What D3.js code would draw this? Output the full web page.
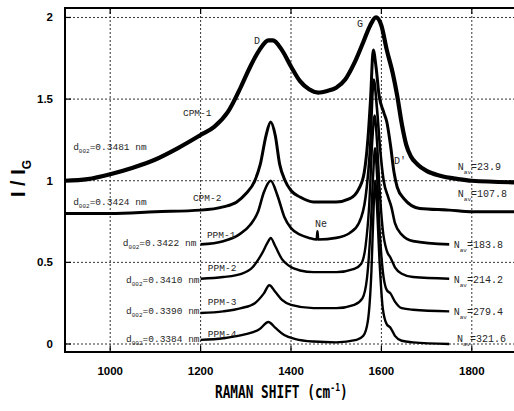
<!DOCTYPE html>
<html lang="en">
<head>
<meta charset="UTF-8">
<title>Raman spectra</title>
<script src="https://cdn.jsdelivr.net/npm/d3@7"></script>
<style>
html,body{margin:0;padding:0;background:#fff;}
svg{display:block;}
.tick-label{font-family:"Liberation Sans",Arial,sans-serif;font-weight:bold;font-size:11.5px;fill:#000;}
.note{font-family:"Liberation Mono","DejaVu Sans Mono",monospace;fill:#262626;}
.grid{stroke:#333;stroke-width:1;stroke-dasharray:2,2;}
</style>
</head>
<body>
<script>
// tick values
const xTicks = [1000, 1200, 1400, 1600, 1800];
const yTicks = [0, 0.5, 1, 1.5, 2];
const yTickLabels = ["0", "0.5", "1", "1.5", "2"];

// spectra: [raman shift, I/IG]
const cpm1 = [[900,1.00],[950,1.01],[1000,1.04],[1050,1.08],[1100,1.13],[1150,1.20],[1200,1.28],[1230,1.33],
  [1260,1.42],[1290,1.58],[1310,1.70],[1330,1.80],[1350,1.86],[1360,1.86],[1380,1.80],[1400,1.70],[1420,1.61],
  [1440,1.56],[1460,1.54],[1480,1.55],[1500,1.57],[1520,1.62],[1540,1.72],[1560,1.85],[1575,1.95],[1588,2.0],
  [1600,1.95],[1612,1.80],[1625,1.66],[1635,1.52],[1645,1.35],[1655,1.22],[1665,1.15],[1680,1.10],[1700,1.06],
  [1730,1.03],[1770,1.01],[1800,1.00],[1900,0.99]];
const cpm2 = [[900,0.80],[1000,0.80],[1100,0.81],[1200,0.82],[1250,0.84],[1280,0.87],[1300,0.92],[1320,1.00],
  [1332,1.10],[1345,1.28],[1355,1.36],[1365,1.28],[1375,1.10],[1387,1.00],[1400,0.94],[1420,0.90],[1450,0.87],
  [1500,0.87],[1530,0.89],[1550,0.95],[1562,1.05],[1570,1.25],[1576,1.50],[1582,1.80],[1588,1.70],[1595,1.52],
  [1605,1.42],[1612,1.36],[1620,1.22],[1628,1.05],[1635,0.96],[1650,0.89],[1685,0.83],[1750,0.82],[1800,0.81],[1900,0.81]];
const ppm1 = [[1200,0.61],[1250,0.63],[1285,0.67],[1310,0.73],[1327,0.81],[1340,0.93],[1355,1.00],[1370,0.91],
  [1385,0.78],[1400,0.71],[1420,0.67],[1440,0.65],[1457,0.64],[1458.5,0.69],[1460,0.64],[1500,0.65],[1530,0.68],
  [1550,0.74],[1565,0.90],[1575,1.20],[1583,1.62],[1590,1.45],[1597,1.20],[1605,1.00],[1615,0.90],[1622,0.84],
  [1630,0.74],[1645,0.67],[1670,0.63],[1750,0.61]];
const ppm2 = [[1200,0.40],[1250,0.41],[1290,0.43],[1315,0.47],[1335,0.55],[1350,0.63],[1355,0.65],[1365,0.60],
  [1380,0.52],[1395,0.48],[1420,0.45],[1450,0.44],[1500,0.44],[1540,0.46],[1555,0.49],[1565,0.60],[1573,0.85],
  [1580,1.25],[1585,1.40],[1590,1.25],[1596,0.95],[1603,0.70],[1612,0.57],[1620,0.53],[1630,0.47],[1645,0.43],
  [1670,0.41],[1750,0.40]];
const ppm3 = [[1200,0.19],[1250,0.20],[1290,0.22],[1320,0.25],[1340,0.31],[1352,0.36],[1365,0.32],[1380,0.27],
  [1400,0.24],[1450,0.22],[1500,0.22],[1540,0.24],[1558,0.28],[1568,0.40],[1576,0.70],[1582,1.05],[1586,1.20],
  [1590,1.05],[1596,0.70],[1603,0.45],[1612,0.33],[1620,0.31],[1630,0.26],[1645,0.22],[1670,0.21],[1750,0.20]];
const ppm4 = [[1200,0.025],[1250,0.035],[1300,0.06],[1330,0.09],[1350,0.135],[1365,0.10],[1385,0.055],[1410,0.03],
  [1450,0.015],[1500,0.01],[1545,0.025],[1560,0.05],[1570,0.14],[1578,0.45],[1583,0.85],[1586,1.00],[1590,0.85],
  [1596,0.50],[1603,0.22],[1612,0.12],[1620,0.10],[1630,0.05],[1645,0.02],[1670,0.01],[1750,0.00]];

const sampleNames = ["CPM-1", "CPM-2", "PPM-1", "PPM-2", "PPM-3", "PPM-4"];
const d002Values = ["0.3481", "0.3424", "0.3422", "0.3410", "0.3390", "0.3384"];
const navValues = ["23.9", "107.8", "183.8", "214.2", "279.4", "321.6"];
const peakNames = ["D", "G", "D'", "Ne"];

// where the labels sit, in data units
const nameAt = [[1161,1.397],[1183,0.876],[1214,0.650],[1216,0.446],[1216,0.240],[1216,0.045]];
const d002At = [[918,1.188],[918,0.851],[1028,0.600],[1035,0.374],[1035,0.184],[1035,0.012]];
const navAt = [[1769,1.066],[1769,0.90],[1760,0.588],[1760,0.374],[1760,0.178],[1767,0.012]];
const peakAt = [[1318,1.838],[1546,1.942],[1628,1.103],[1453,0.717]];

const spectra = [cpm1, cpm2, ppm1, ppm2, ppm3, ppm4];
const lineWidths = [4.2, 3, 2.6, 2.4, 2.4, 2.4];

const W = 514, H = 411;
const svg = d3.select("body").append("svg").attr("width", W).attr("height", H);

const x = d3.scaleLinear().domain([900, 1900]).range([65, 517]);
const y = d3.scaleLinear().domain([-0.049, 2.058]).range([352, 8]);

// grid
svg.append("g").selectAll("line").data(xTicks).join("line").attr("class", "grid")
  .attr("x1", d => x(d)).attr("x2", d => x(d)).attr("y1", y.range()[1]).attr("y2", y.range()[0]);
svg.append("g").selectAll("line").data(yTicks).join("line").attr("class", "grid")
  .attr("x1", x.range()[0]).attr("x2", x.range()[1]).attr("y1", d => y(d)).attr("y2", d => y(d));

// inward ticks
const tk = svg.append("g").attr("stroke", "#000").attr("stroke-width", 1.2);
xTicks.forEach(v => {
  tk.append("line").attr("x1", x(v)).attr("x2", x(v)).attr("y1", 8).attr("y2", 14);
  tk.append("line").attr("x1", x(v)).attr("x2", x(v)).attr("y1", 352).attr("y2", 346);
});
yTicks.forEach(v => {
  tk.append("line").attr("x1", 65).attr("x2", 71).attr("y1", y(v)).attr("y2", y(v));
});

// spectra
const line = d3.line().x(d => x(d[0])).y(d => y(d[1])).curve(d3.curveMonotoneX);
svg.append("g").selectAll("path").data(spectra).join("path")
  .attr("d", line).attr("fill", "none").attr("stroke", "#000")
  .attr("stroke-width", (d, i) => lineWidths[i]).attr("stroke-linejoin", "round");

// frame
svg.append("rect").attr("x", 65).attr("y", 8).attr("width", 452).attr("height", 344)
  .attr("fill", "none").attr("stroke", "#000").attr("stroke-width", 2);

// tick labels
svg.append("g").selectAll("text").data(xTicks).join("text").attr("class", "tick-label")
  .attr("x", d => x(d)).attr("y", 375).attr("text-anchor", "middle").text(d => d);
svg.append("g").selectAll("text").data(yTicks).join("text").attr("class", "tick-label")
  .attr("x", 53).attr("y", d => y(d) + 4).attr("text-anchor", "end").text((d, i) => yTickLabels[i]);

// axis titles
const xt = svg.append("g").attr("transform", "translate(215,398) scale(0.73,1)")
  .append("text").attr("font-family", "'DejaVu Sans Mono',monospace").attr("font-weight", "bold")
  .attr("font-size", 17.5);
xt.append("tspan").text("RAMAN SHIFT (cm");
xt.append("tspan").attr("font-size", 11).attr("dy", -7).text("-1");
xt.append("tspan").attr("dy", 7).text(")");

const yt = svg.append("text").attr("transform", "translate(25,197) rotate(-90)")
  .attr("font-family", "'Liberation Sans',Arial,sans-serif").attr("font-weight", "bold").attr("font-size", 20);
yt.append("tspan").text("I / I");
yt.append("tspan").attr("font-size", 12).attr("dy", 6).text("G");

// sample names
svg.append("g").selectAll("text").data(sampleNames).join("text").attr("class", "note")
  .attr("font-size", 9.5).attr("x", (d, i) => x(nameAt[i][0])).attr("y", (d, i) => y(nameAt[i][1])).text(d => d);

// d002 labels
d002Values.forEach((v, i) => {
  const t = svg.append("text").attr("class", "note").attr("font-size", 9.5)
    .attr("x", x(d002At[i][0])).attr("y", y(d002At[i][1]));
  t.append("tspan").text("d");
  t.append("tspan").attr("font-size", 6).attr("dy", 3).text("002");
  t.append("tspan").attr("dy", -3).text("=" + v + "\u00a0nm");
});

// Nav labels
navValues.forEach((v, i) => {
  const t = svg.append("text").attr("class", "note").attr("font-size", 10)
    .attr("x", x(navAt[i][0])).attr("y", y(navAt[i][1]));
  t.append("tspan").text("N");
  t.append("tspan").attr("font-size", 6).attr("dy", 4).text("av");
  t.append("tspan").attr("dy", -4).text("=" + v);
});

// peak labels
svg.append("g").selectAll("text").data(peakNames).join("text").attr("class", "note")
  .attr("font-size", 10).attr("x", (d, i) => x(peakAt[i][0])).attr("y", (d, i) => y(peakAt[i][1])).text(d => d);
</script>
</body>
</html>
